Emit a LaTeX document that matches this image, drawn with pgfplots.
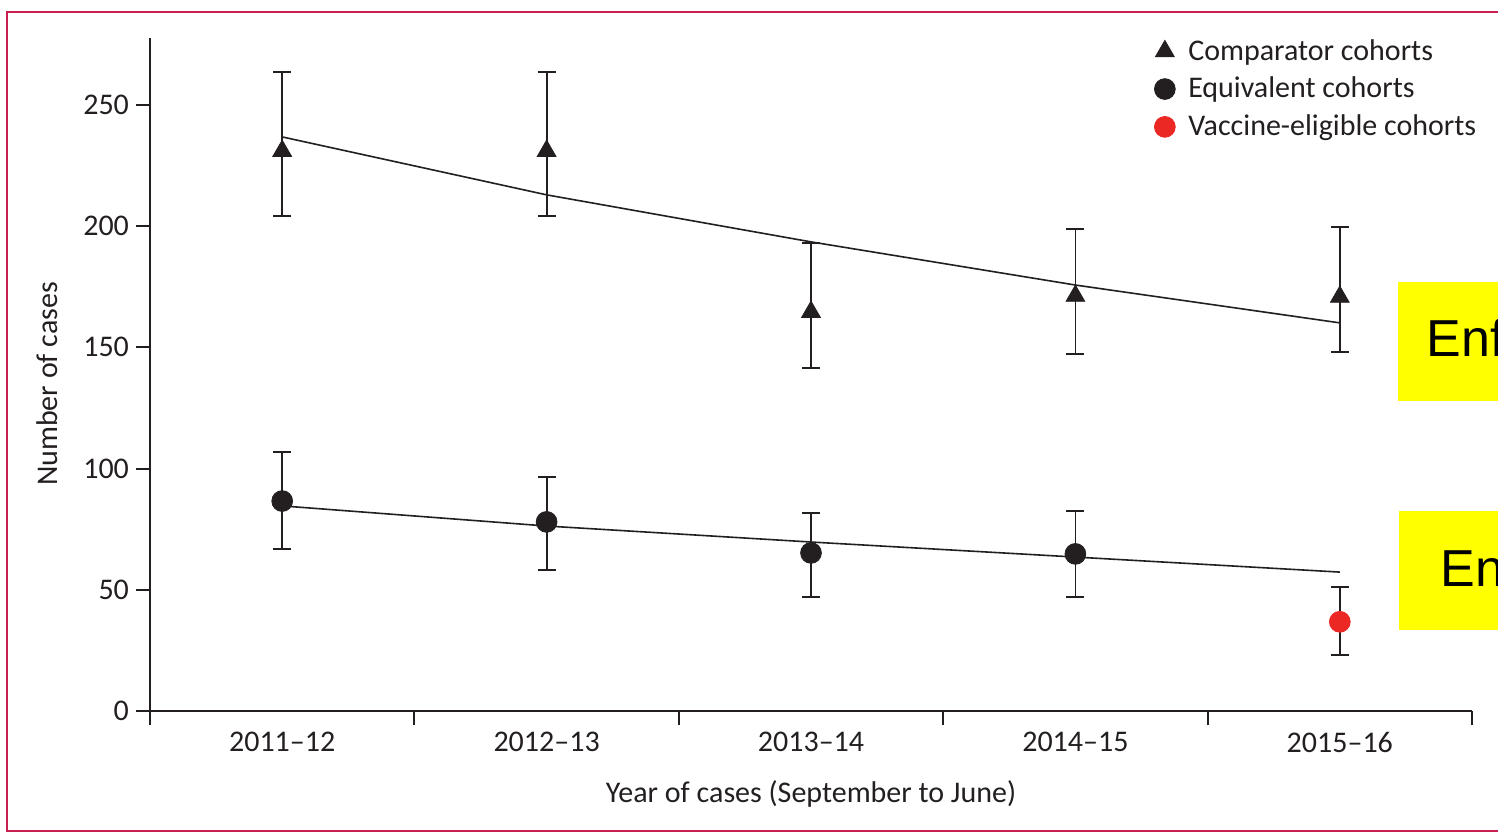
\documentclass[border=0pt]{standalone}
\usepackage{pgfplots}
\pgfplotsset{compat=1.18}
\usepackage{fontspec}
\setmainfont{Carlito}
\newfontfamily\arialfont{Liberation Sans}
\definecolor{ink}{RGB}{35,31,32}
\definecolor{vred}{RGB}{236,40,36}
\definecolor{framecol}{RGB}{200,30,80}
\definecolor{hl}{RGB}{255,255,0}
\begin{document}
\begin{tikzpicture}
\useasboundingbox (0,0) rectangle (749pt,-416.5pt);
\begin{scope}[x=0.5pt,y=-0.5pt]
\clip (0,0) rectangle (1498,833);
\draw[framecol, line width=1pt] (7,12) rectangle (1530,831);
\fill[hl] (1398,282) rectangle (1530,401);
\fill[hl] (1399,511) rectangle (1530,630);
\node[anchor=base west, inner sep=0, font=\arialfont\fontsize{26}{30}\selectfont] at (1426,357) {Enf};
\node[anchor=base west, inner sep=0, font=\arialfont\fontsize{26}{30}\selectfont] at (1440,586) {En};
\end{scope}
\begin{axis}[
  at={(75pt,-355.5pt)}, anchor=south west,
  scale only axis, width=661pt, height=336.5pt,
  xmin=-0.5, xmax=4.5, ymin=0, ymax=277.6,
  axis x line=bottom, axis y line=left,
  axis line style={-, line width=1pt, draw=ink},
  xtick={-0.5,0.5,1.5,2.5,3.5,4.5},
  x tick label as interval,
  xticklabels={2011–12,2012–13,2013–14,2014–15,2015–16},
  ytick={0,50,100,150,200,250},
  tick align=outside, major tick length=7pt,
  tick style={line width=1pt, draw=ink},
  /pgf/number format/assume math mode=true,
  ticklabel style={font=\fontsize{15}{18}\selectfont, text=ink},
  xlabel={Year of cases (September to June)},
  ylabel={Number of cases},
  label style={font=\fontsize{15}{18}\selectfont, text=ink},
  xlabel style={at={(axis description cs:0.5,-0.1233)}, anchor=center},
  ylabel style={at={(axis description cs:-0.0779,0.486)}, anchor=center, rotate=0},
  legend style={draw=none, fill=none, at={(axis description cs:0.7595,1.0046)}, anchor=north west,
    font=\fontsize{15}{18}\selectfont, text=ink, row sep=3pt, column sep=4.5pt, inner sep=0pt},
  legend cell align=left,
  clip=false,
]
\addplot[ink, line width=0.8pt, forget plot] coordinates {(0,236.8)(1,212.9)(2,193.5)(3,175.7)(4,160.1)};
\addplot[ink, line width=0.8pt, forget plot] coordinates {(0,84.6)(1,76.3)(2,69.7)(3,63.5)(4,57.3)};
\addplot[only marks, mark=triangle*, mark size=5.4pt, ink,
  error bars/.cd, y dir=both, y explicit,
  error bar style={line width=0.9pt, ink},
  error mark options={rotate=90, mark size=4.5pt, line width=0.9pt, ink}]
  coordinates {
  (0,231.0) += (0,32.6) -= (0,26.8)
  (1,231.0) += (0,32.6) -= (0,26.8)
  (2,164.6) += (0,28.5) -= (0,23.1)
  (3,171.2) += (0,27.6) -= (0,23.9)
  (4,170.8) += (0,28.9) -= (0,22.8)
  };
\addlegendentry{Comparator cohorts}
\addplot[only marks, mark=*, mark size=5.2pt, ink, fill=ink,
  error bars/.cd, y dir=both, y explicit,
  error bar style={line width=0.9pt, ink},
  error mark options={rotate=90, mark size=4.5pt, line width=0.9pt, ink}]
  coordinates {
  (0,86.6) += (0,20.2) -= (0,19.8)
  (1,78.0) += (0,18.5) -= (0,19.8)
  (2,65.2) += (0,16.5) -= (0,18.2)
  (3,64.8) += (0,17.7) -= (0,17.8)
  };
\addlegendentry{Equivalent cohorts}
\addplot[only marks, mark=*, mark size=5.2pt, color=vred, mark options={fill=vred, draw=vred},
  error bars/.cd, y dir=both, y explicit,
  error bar style={line width=0.9pt, ink},
  error mark options={rotate=90, mark size=4.5pt, line width=0.9pt, ink}]
  coordinates {
  (4,36.8) += (0,14.2) -= (0,13.7)
  };
\addlegendentry{Vaccine-eligible cohorts}
\end{axis}
\end{tikzpicture}
\end{document}
